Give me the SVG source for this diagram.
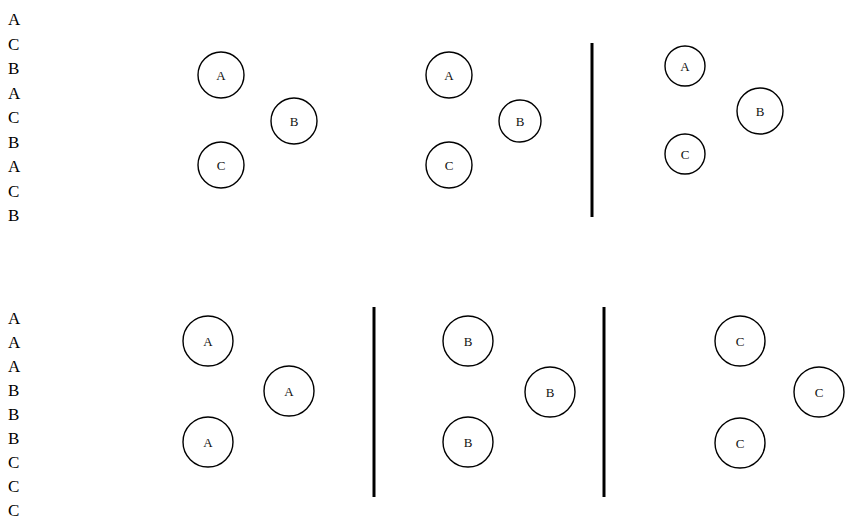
<svg xmlns="http://www.w3.org/2000/svg" width="845" height="521" viewBox="0 0 845 521">
<style>
.lbl{font-family:"Liberation Serif","Times New Roman",serif;font-size:17px;fill:#000}
.n circle{fill:none;stroke:#000;stroke-width:1.4}
.n text{font-family:"Liberation Serif","Times New Roman",serif;font-size:13px;fill:#111;text-anchor:middle;dominant-baseline:central}
.sep{stroke:#000;stroke-width:3}
</style>
<rect width="845" height="521" fill="#fff"/>
<g id="list-top">
<text class="lbl" x="8" y="25">A</text>
<text class="lbl" x="8" y="49.5">C</text>
<text class="lbl" x="8" y="74">B</text>
<text class="lbl" x="8" y="98.5">A</text>
<text class="lbl" x="8" y="123">C</text>
<text class="lbl" x="8" y="147.5">B</text>
<text class="lbl" x="8" y="172">A</text>
<text class="lbl" x="8" y="196.5">C</text>
<text class="lbl" x="8" y="221">B</text>
</g>
<g id="list-bottom">
<text class="lbl" x="8" y="324">A</text>
<text class="lbl" x="8" y="348">A</text>
<text class="lbl" x="8" y="372">A</text>
<text class="lbl" x="8" y="396">B</text>
<text class="lbl" x="8" y="420">B</text>
<text class="lbl" x="8" y="444">B</text>
<text class="lbl" x="8" y="468">C</text>
<text class="lbl" x="8" y="492">C</text>
<text class="lbl" x="8" y="516">C</text>
</g>
<g id="separators">
<line class="sep" x1="592" y1="43" x2="592" y2="217"/>
<line class="sep" x1="374" y1="307" x2="374" y2="497"/>
<line class="sep" x1="604" y1="307" x2="604" y2="497"/>
</g>
<g id="t1-A" class="n"><circle cx="221" cy="75" r="23"/><text x="221" y="75">A</text></g>
<g id="t1-B" class="n"><circle cx="294" cy="121" r="23"/><text x="294" y="121">B</text></g>
<g id="t1-C" class="n"><circle cx="221" cy="165" r="23"/><text x="221" y="165">C</text></g>
<g id="t2-A" class="n"><circle cx="449" cy="75" r="23"/><text x="449" y="75">A</text></g>
<g id="t2-B" class="n"><circle cx="520" cy="121" r="21"/><text x="520" y="121">B</text></g>
<g id="t2-C" class="n"><circle cx="449" cy="165" r="23"/><text x="449" y="165">C</text></g>
<g id="t3-A" class="n"><circle cx="685" cy="66" r="20"/><text x="685" y="66">A</text></g>
<g id="t3-B" class="n"><circle cx="760" cy="111" r="23"/><text x="760" y="111">B</text></g>
<g id="t3-C" class="n"><circle cx="685" cy="154" r="20"/><text x="685" y="154">C</text></g>
<g id="b1-A1" class="n"><circle cx="208" cy="341" r="25"/><text x="208" y="341">A</text></g>
<g id="b1-A2" class="n"><circle cx="289" cy="391" r="25"/><text x="289" y="391">A</text></g>
<g id="b1-A3" class="n"><circle cx="208" cy="442" r="25"/><text x="208" y="442">A</text></g>
<g id="b2-B1" class="n"><circle cx="468" cy="341" r="25"/><text x="468" y="341">B</text></g>
<g id="b2-B2" class="n"><circle cx="550" cy="392" r="25"/><text x="550" y="392">B</text></g>
<g id="b2-B3" class="n"><circle cx="468" cy="442" r="25"/><text x="468" y="442">B</text></g>
<g id="b3-C1" class="n"><circle cx="740" cy="341" r="25"/><text x="740" y="341">C</text></g>
<g id="b3-C2" class="n"><circle cx="819" cy="392" r="25"/><text x="819" y="392">C</text></g>
<g id="b3-C3" class="n"><circle cx="740" cy="443" r="25"/><text x="740" y="443">C</text></g>
</svg>
